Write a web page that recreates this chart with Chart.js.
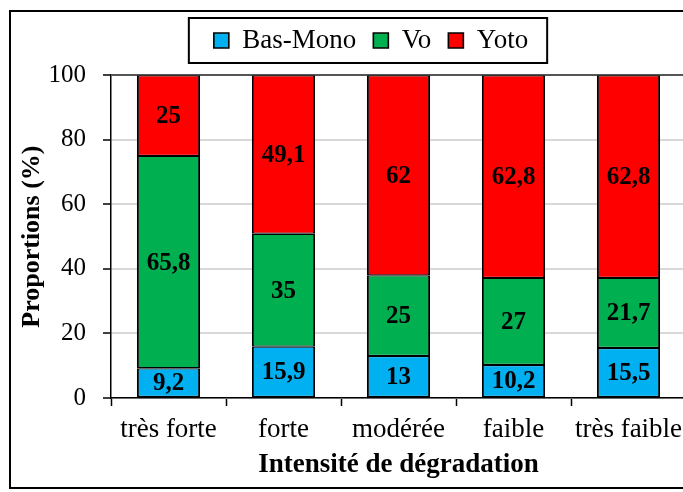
<!DOCTYPE html>
<html>
<head>
<meta charset="utf-8">
<script src="https://cdn.jsdelivr.net/npm/chart.js@4.4.0/dist/chart.umd.min.js"></script>
<style>
  html, body { margin: 0; padding: 0; background: #fff; overflow: hidden; }
  #wrap { width: 740px; height: 492px; position: relative; }
</style>
</head>
<body>
<div id="wrap"><canvas id="chart"></canvas></div>
<script>
// categories and series (proportions in %)
const categories = ['très forte', 'forte', 'modérée', 'faible', 'très faible'];
const basMono = [9.2, 15.9, 13, 10.2, 15.5];
const vo = [65.8, 35, 25, 27, 21.7];
const yoto = [25, 49.1, 62, 62.8, 62.8];
const yTicks = [0, 20, 40, 60, 80, 100];

const serif = '"Liberation Serif", "Times New Roman", serif';

// draws the outer frame and the box round the legend
const framePlugin = {
    id: 'frame',
    beforeDraw(chart) {
        const ctx = chart.ctx;
        ctx.save();
        ctx.fillStyle = '#fff';
        ctx.fillRect(0, 0, chart.width, chart.height);
        ctx.strokeStyle = '#000';
        ctx.lineWidth = 2;
        ctx.strokeRect(10, 11, 720, 477);
        ctx.restore();
    },
    afterDraw(chart) {
        const boxes = chart.legend.legendHitBoxes;
        if (!boxes || !boxes.length) return;
        let left = Infinity, right = -Infinity, top = Infinity, bottom = -Infinity;
        boxes.forEach(b => {
            left = Math.min(left, b.left);
            right = Math.max(right, b.left + b.width);
            top = Math.min(top, b.top);
            bottom = Math.max(bottom, b.top + b.height);
        });
        const ctx = chart.ctx;
        ctx.save();
        ctx.strokeStyle = '#000';
        ctx.lineWidth = 2;
        ctx.strokeRect(left - 25, top - 9, right - left + 44, bottom - top + 18);
        ctx.restore();
    }
};

// writes the value in the middle of each bar segment
const valueLabels = {
    id: 'valueLabels',
    afterDatasetsDraw(chart) {
        const ctx = chart.ctx;
        ctx.save();
        ctx.font = 'bold 25px ' + serif;
        ctx.fillStyle = '#000';
        ctx.textAlign = 'center';
        ctx.textBaseline = 'middle';
        chart.data.datasets.forEach((ds, i) => {
            chart.getDatasetMeta(i).data.forEach((bar, j) => {
                const txt = String(ds.data[j]).replace('.', ',');
                ctx.fillText(txt, bar.x, (bar.y + bar.base) / 2 + 1);
            });
        });
        ctx.restore();
    }
};

new Chart(document.getElementById('chart'), {
    type: 'bar',
    data: {
        labels: categories,
        datasets: [
            { label: 'Bas-Mono', data: basMono, backgroundColor: '#00b0f0' },
            { label: 'Vo', data: vo, backgroundColor: '#00b050' },
            { label: 'Yoto', data: yoto, backgroundColor: '#ff0000' }
        ].map(d => Object.assign(d, {
            borderColor: '#000',
            borderWidth: { top: 1.2, bottom: 1.2, left: 2, right: 2 },
            borderSkipped: false,
            categoryPercentage: 1,
            barPercentage: 0.55
        }))
    },
    options: {
        responsive: true,
        maintainAspectRatio: false,
        animation: false,
        layout: { padding: { top: 10, left: 12, right: 10, bottom: 11 } },
        scales: {
            x: {
                stacked: true,
                offset: true,
                afterFit(scale) { scale.height = 83; },
                border: { color: '#000', width: 1.5 },
                grid: {
                    offset: true,
                    drawOnChartArea: false,
                    tickLength: 8,
                    tickColor: '#000',
                    tickWidth: 1.5
                },
                ticks: { color: '#000', font: { family: serif, size: 27 }, padding: 8, maxRotation: 0 },
                title: {
                    display: true,
                    text: 'Intensité de dégradation',
                    color: '#000',
                    font: { family: serif, size: 27, weight: 'bold' },
                    padding: { top: 0, bottom: 0 }
                }
            },
            y: {
                stacked: true,
                min: 0,
                max: 100,
                afterBuildTicks(scale) {
                    scale.ticks = yTicks.map(v => ({ value: v }));
                },
                afterFit(scale) { scale.width = 99; },
                border: { color: '#000', width: 1.5 },
                grid: {
                    color: c => (c.tick && c.tick.value === 100) ? '#555' : '#d9d9d9',
                    lineWidth: 2,
                    tickLength: 8,
                    tickColor: '#000',
                    tickWidth: 1.5
                },
                ticks: { color: '#000', font: { family: serif, size: 25 }, padding: 17 },
                title: {
                    display: true,
                    text: 'Proportions (%)',
                    color: '#000',
                    font: { family: serif, size: 26, weight: 'bold' },
                    padding: { top: 5, bottom: 0 }
                }
            },
            // empty space on the right, the plot runs past the picture edge
            yRight: {
                position: 'right',
                display: true,
                afterFit(scale) { scale.width = 44; },
                grid: { display: false },
                border: { display: false },
                ticks: { display: false }
            }
        },
        plugins: {
            legend: {
                position: 'top',
                align: 'center',
                labels: {
                    color: '#000',
                    font: { family: serif, size: 27 },
                    boxWidth: 15,
                    boxHeight: 15,
                    padding: 17
                },
                onClick: null
            },
            // blank spacer between the legend and the plot
            title: {
                display: true,
                text: ' ',
                weight: 500,
                font: { size: 1 },
                padding: { top: 5, bottom: 5 }
            },
            tooltip: { enabled: false }
        }
    },
    plugins: [framePlugin, valueLabels]
});
</script>
</body>
</html>
